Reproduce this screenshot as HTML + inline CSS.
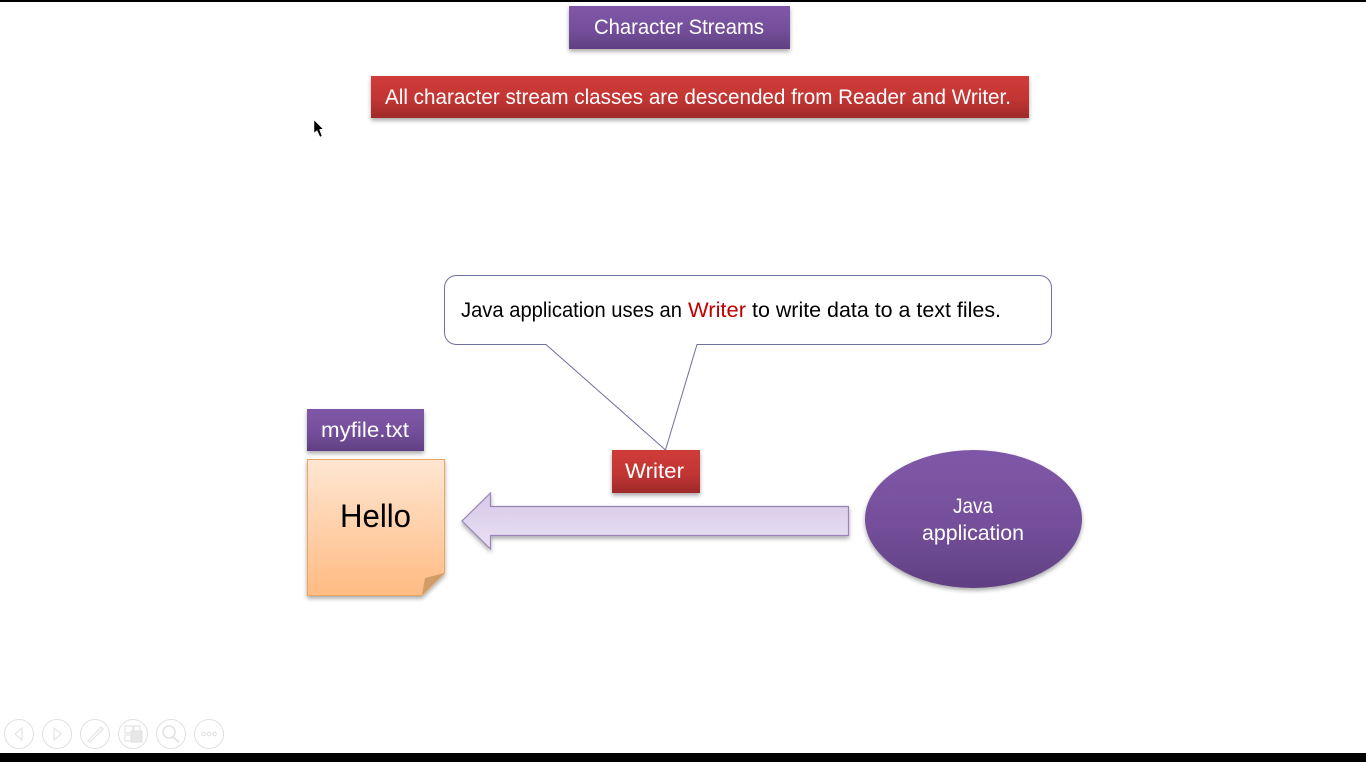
<!DOCTYPE html>
<html>
<head>
<meta charset="utf-8">
<style>
html,body{margin:0;padding:0;background:#fff;width:1366px;height:762px;overflow:hidden}
svg{display:block}
text{font-family:"Liberation Sans",sans-serif}
</style>
</head>
<body>
<svg width="1366" height="762" viewBox="0 0 1366 762" xmlns="http://www.w3.org/2000/svg">
<defs>
<linearGradient id="pur" x1="0" y1="0" x2="0" y2="1"><stop offset="0" stop-color="#7f57a8"/><stop offset="0.55" stop-color="#744f9a"/><stop offset="1" stop-color="#5f4082"/></linearGradient>
<linearGradient id="red" x1="0" y1="0" x2="0" y2="1"><stop offset="0" stop-color="#cf3c39"/><stop offset="0.55" stop-color="#c23533"/><stop offset="1" stop-color="#9e2a29"/></linearGradient>
<linearGradient id="note" x1="0" y1="0" x2="0" y2="1"><stop offset="0" stop-color="#ffe6d2"/><stop offset="1" stop-color="#ffbb82"/></linearGradient>
<linearGradient id="arr" x1="0" y1="0" x2="0" y2="1"><stop offset="0" stop-color="#d6c9e9"/><stop offset="1" stop-color="#e9e1f4"/></linearGradient>
<filter id="sh" x="-10%" y="-15%" width="120%" height="140%"><feDropShadow dx="0" dy="2.5" stdDeviation="2" flood-color="#000" flood-opacity="0.34"/></filter>
</defs>

<rect x="0" y="0" width="1366" height="2" fill="#000"/>
<rect x="0" y="753" width="1366" height="9" fill="#000"/>

<!-- Title -->
<rect x="569" y="6" width="221" height="43" fill="url(#pur)" filter="url(#sh)"/>
<text x="594" y="34" font-size="21" fill="#fff" textLength="170" lengthAdjust="spacingAndGlyphs">Character Streams</text>

<!-- Subtitle -->
<rect x="371" y="76" width="658" height="42" fill="url(#red)" filter="url(#sh)"/>
<text x="385" y="104" font-size="21" fill="#fff" textLength="626" lengthAdjust="spacingAndGlyphs">All character stream classes are descended from Reader and Writer.</text>

<!-- Cursor -->
<path d="M314 120 L314 133 L317 130.5 L320 137 L322 136 L319.5 129.5 L323 129 Z" fill="#000" stroke="#fff" stroke-width="0.5"/>

<!-- Callout -->
<path d="M456.5 275.5 H1039.5 A12 12 0 0 1 1051.5 287.5 V332.5 A12 12 0 0 1 1039.5 344.5 H697 L665.5 450 L546 344.5 H456.5 A12 12 0 0 1 444.5 332.5 V287.5 A12 12 0 0 1 456.5 275.5 Z" fill="#fff" stroke="#6f6fa0" stroke-width="1"/>
<text x="461" y="317" font-size="21" fill="#000" textLength="221" lengthAdjust="spacingAndGlyphs">Java application uses an</text>
<text x="688" y="317" font-size="21" fill="#c00000" textLength="58" lengthAdjust="spacingAndGlyphs">Writer</text>
<text x="752" y="317" font-size="21" fill="#000" textLength="249" lengthAdjust="spacingAndGlyphs">to write data to a text files.</text>

<!-- myfile label -->
<rect x="307" y="409" width="117" height="42" fill="url(#pur)" filter="url(#sh)"/>
<text x="321" y="437" font-size="21" fill="#fff" textLength="88" lengthAdjust="spacingAndGlyphs">myfile.txt</text>

<!-- Note -->
<path d="M307.5 459.5 H444.5 V573 L422 595.5 H307.5 Z" fill="url(#note)" stroke="#eda65f" stroke-width="1" filter="url(#sh)"/>
<path d="M444.5 573 L425 578 L422 595 Z" fill="#d09c68"/>
<text x="340" y="527" font-size="32" fill="#000" textLength="71" lengthAdjust="spacingAndGlyphs">Hello</text>

<!-- Writer -->
<rect x="612" y="450" width="88" height="43" fill="url(#red)" filter="url(#sh)"/>
<text x="625" y="478" font-size="21" fill="#fff" textLength="59" lengthAdjust="spacingAndGlyphs">Writer</text>

<!-- Arrow -->
<path d="M462 521 L490.5 493 V506.5 H848.5 V535.5 H490.5 V549 Z" fill="url(#arr)" stroke="#9a84b6" stroke-width="1.2" filter="url(#sh)"/>

<!-- Ellipse -->
<ellipse cx="973.5" cy="519" rx="108.5" ry="69" fill="url(#pur)" filter="url(#sh)"/>
<text x="953" y="513" font-size="21" fill="#fff" textLength="40" lengthAdjust="spacingAndGlyphs">Java</text>
<text x="922" y="540" font-size="21" fill="#fff" textLength="102" lengthAdjust="spacingAndGlyphs">application</text>

<!-- Slideshow controls -->
<g fill="none" stroke="#e2e2e2" stroke-width="1.1">
<circle cx="19" cy="734" r="14.5"/>
<circle cx="57" cy="734" r="14.5"/>
<circle cx="95" cy="734" r="14.5"/>
<circle cx="133" cy="734" r="14.5"/>
<circle cx="171" cy="734" r="14.5"/>
<circle cx="209" cy="734" r="14.5"/>
<path d="M22 728 L15 734 L22 740 Z"/>
<path d="M54 728 L61 734 L54 740 Z"/>
<path d="M88 741 L101 727 L103 729 L90 742 Z"/>
<rect x="125" y="726" width="8" height="7"/>
<rect x="125" y="735" width="6" height="6"/>
<rect x="134" y="726" width="6" height="5"/>
<rect x="131" y="731" width="11" height="11" fill="#e8e8e8"/>
<circle cx="169" cy="732" r="6" stroke-width="1.5"/>
<path d="M173 737 L179 742" stroke-width="1.8"/>
<circle cx="203.5" cy="734" r="1.8"/>
<circle cx="209" cy="734" r="1.8"/>
<circle cx="214.5" cy="734" r="1.8"/>
</g>
</svg>
</body>
</html>
